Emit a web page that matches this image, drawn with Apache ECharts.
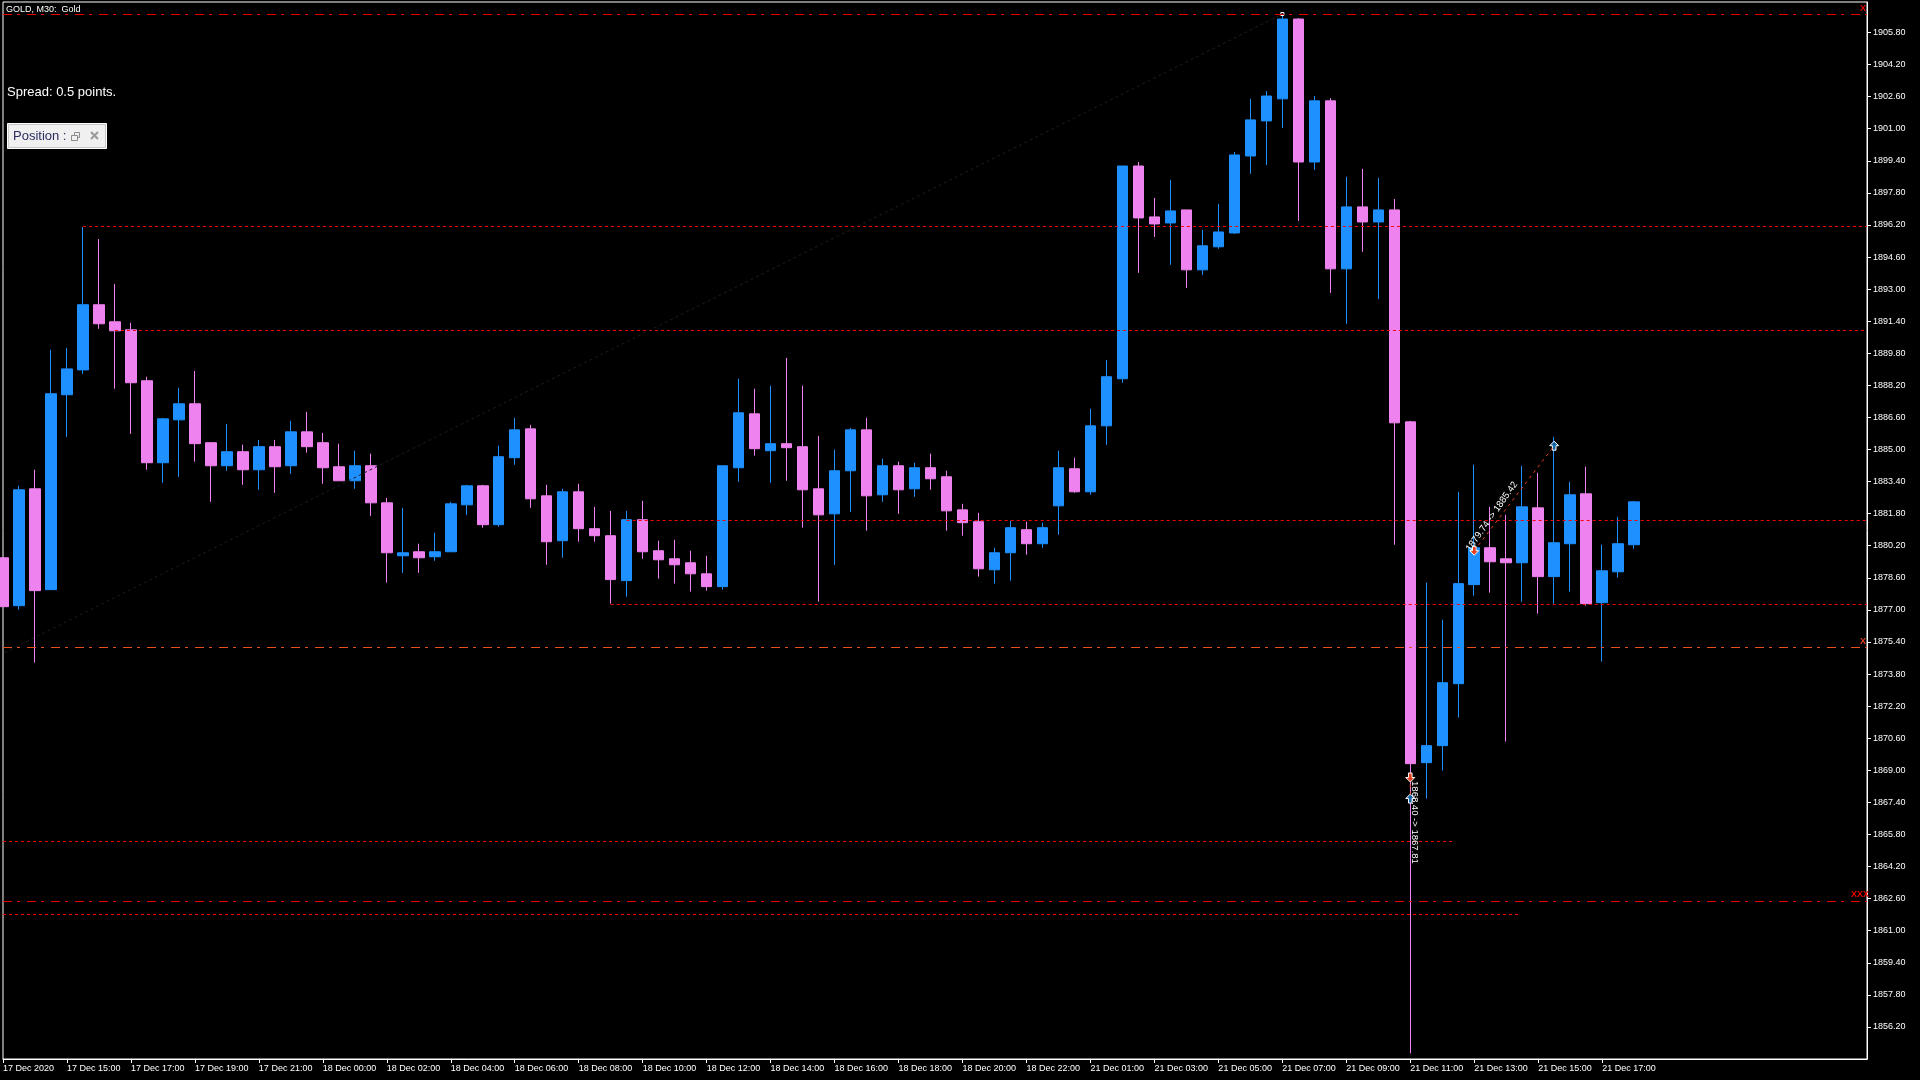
<!DOCTYPE html>
<html>
<head>
<meta charset="utf-8">
<title>GOLD, M30</title>
<style>html,body{margin:0;padding:0;background:#000;overflow:hidden}#c{width:1920px;height:1080px}</style>
<script src="https://cdn.jsdelivr.net/npm/echarts@6/dist/echarts.min.js"></script>
</head>
<body>
<div id="c"></div>
<script>
const opens = [1879.60,1877.21,1883.04,1878.01,1887.73,1888.97,1892.22,1891.37,1890.97,1888.43,1884.34,1886.48,1887.28,1885.34,1884.19,1884.89,1883.99,1885.14,1884.19,1885.88,1885.34,1884.14,1883.44,1884.19,1882.34,1879.70,1879.90,1879.65,1879.90,1882.24,1883.19,1881.25,1884.59,1886.03,1882.69,1880.45,1882.89,1881.05,1880.70,1878.46,1881.50,1879.95,1879.55,1879.35,1878.80,1878.16,1884.09,1886.78,1884.94,1885.29,1885.14,1883.04,1881.79,1883.94,1885.98,1882.74,1884.19,1883.04,1884.09,1883.64,1881.99,1881.40,1879.00,1879.85,1881.00,1880.30,1882.19,1884.04,1882.89,1886.18,1888.53,1899.14,1896.60,1896.30,1896.95,1893.96,1895.11,1895.80,1899.64,1901.39,1902.49,1906.47,1899.34,1902.39,1894.01,1897.10,1896.35,1896.95,1886.38,1869.38,1870.23,1873.32,1878.26,1880.10,1879.55,1879.35,1882.09,1878.66,1880.30,1882.79,1877.36,1878.90,1880.25];
const closes = [1877.16,1882.99,1877.96,1887.78,1889.02,1892.22,1891.27,1890.92,1888.33,1884.34,1886.53,1887.28,1885.29,1884.19,1884.89,1883.99,1885.14,1884.14,1885.88,1885.14,1884.09,1883.44,1884.19,1882.34,1879.85,1879.85,1879.60,1879.90,1882.29,1883.19,1881.25,1884.64,1885.98,1882.54,1880.40,1882.89,1881.05,1880.70,1878.51,1881.50,1879.90,1879.50,1879.25,1878.80,1878.16,1884.19,1886.83,1885.04,1885.29,1885.09,1882.99,1881.74,1883.94,1885.98,1882.69,1884.19,1882.99,1884.09,1883.54,1881.94,1881.35,1879.05,1879.85,1881.10,1880.30,1881.10,1884.09,1882.89,1886.18,1888.63,1899.14,1896.55,1896.25,1896.90,1893.96,1895.16,1895.85,1899.69,1901.44,1902.63,1906.47,1899.34,1902.39,1894.01,1897.10,1896.35,1896.95,1886.33,1869.33,1870.23,1873.37,1878.31,1880.10,1879.40,1879.35,1882.14,1878.66,1880.35,1882.74,1877.31,1878.95,1880.30,1882.39];
const lows = [1877.16,1877.01,1874.37,1878.01,1885.63,1888.77,1891.02,1888.03,1885.78,1883.99,1883.34,1883.64,1884.39,1882.39,1883.94,1883.24,1882.99,1882.84,1883.79,1884.84,1883.29,1883.44,1883.04,1881.69,1878.36,1878.85,1878.85,1879.45,1879.90,1881.74,1881.10,1881.15,1884.24,1882.09,1879.25,1879.60,1880.40,1880.40,1877.31,1877.66,1879.55,1878.56,1878.31,1877.91,1877.96,1878.01,1883.39,1884.69,1883.34,1883.44,1881.10,1877.41,1879.25,1881.89,1880.95,1882.39,1881.79,1882.64,1882.99,1880.95,1880.70,1878.66,1878.31,1878.46,1879.75,1880.10,1880.75,1882.84,1882.74,1885.24,1888.33,1893.81,1895.60,1894.21,1893.06,1893.71,1895.01,1895.75,1898.75,1899.19,1901.04,1896.40,1898.95,1892.81,1891.27,1894.86,1892.51,1880.25,1854.88,1867.59,1868.99,1871.63,1877.71,1877.86,1870.43,1877.41,1876.81,1877.31,1877.91,1877.21,1874.42,1878.61,1880.05];
const highs = [1879.60,1883.19,1883.99,1889.97,1890.07,1896.10,1895.50,1893.26,1891.32,1888.63,1886.58,1888.08,1888.92,1885.34,1886.28,1885.24,1885.48,1885.48,1886.43,1886.88,1885.83,1885.29,1884.94,1884.79,1882.59,1882.09,1880.30,1880.85,1882.39,1883.24,1883.24,1885.19,1886.58,1886.23,1883.24,1883.04,1883.29,1882.14,1881.94,1881.94,1882.44,1880.45,1880.50,1879.95,1879.70,1884.19,1888.53,1888.03,1888.18,1889.57,1888.18,1885.68,1884.99,1886.08,1886.58,1884.54,1884.39,1884.34,1884.79,1883.94,1882.29,1881.84,1880.10,1881.45,1881.40,1881.35,1884.94,1884.59,1887.03,1889.47,1899.14,1899.34,1897.55,1898.45,1896.95,1895.95,1897.25,1899.84,1902.49,1902.88,1906.72,1906.52,1902.63,1902.53,1898.60,1899.00,1898.55,1897.50,1886.43,1878.36,1876.51,1882.89,1884.24,1882.14,1881.74,1884.19,1883.84,1885.63,1883.39,1884.14,1880.25,1881.64,1882.44];

const priceTicks = [1856.2,1857.8,1859.4,1861.0,1862.6,1864.2,1865.8,1867.4,1869.0,1870.6,1872.2,1873.8,1875.4,1877.0,1878.6,1880.2,1881.8,1883.4,1885.0,1886.6,1888.2,1889.8,1891.4,1893.0,1894.6,1896.2,1897.8,1899.4,1901.0,1902.6,1904.2,1905.8];
const timeLabels = ['17 Dec 2020','17 Dec 15:00','17 Dec 17:00','17 Dec 19:00','17 Dec 21:00','18 Dec 00:00','18 Dec 02:00','18 Dec 04:00','18 Dec 06:00','18 Dec 08:00','18 Dec 10:00','18 Dec 12:00','18 Dec 14:00','18 Dec 16:00','18 Dec 18:00','18 Dec 20:00','18 Dec 22:00','21 Dec 01:00','21 Dec 03:00','21 Dec 05:00','21 Dec 07:00','21 Dec 09:00','21 Dec 11:00','21 Dec 13:00','21 Dec 15:00','21 Dec 17:00'];
const timeTickBars = [0,4,8,12,16,20,24,28,32,36,40,44,48,52,56,60,64,68,72,76,80,84,88,92,96,100];

// horizontal price levels: price, first bar, last bar (null = to the chart edge)
const levelPrices = [1906.697,1896.123,1890.935,1881.459,1877.269,1875.124,1865.448,1862.456,1861.807];
const levelStarts = [0,5,7,39,38,0,0,0,0];
const levelEnds   = [null,null,null,null,null,null,90.8,null,94.8];
const levelKinds  = ['main','dot','dot','dot','dot','alt','dot','main','dot'];

// faint trend line
const trendBars = [0.1,80];
const trendPrices = [1874.87,1906.72];

// closed trades: entry -> exit
const tradeBars = [[88,88],[92,97]];
const tradePrices = [[1868.64,1867.59],[1879.95,1885.19]];
const tradeTexts = ['1868.40 -> 1867.81','1879.74 -> 1885.42'];
const tradeTextBars = [88.3,93.1];
const tradeTextPrices = [1866.40,1881.66];
const topMarkBar = 80;
const topMarkPrice = 1906.72;

const FONT = '"Liberation Sans"';
const X_MAX = 116.56;
const UP_ARROW = 'path://M5 0 L10 5 L7 5 L7 10 L3 10 L3 5 L0 5 Z';
const DOWN_ARROW = 'path://M5 10 L0 5 L3 5 L3 0 L7 0 L7 5 L10 5 Z';

const levelStyles = {
  main: {color:'#f00000', type:[9,5,3,7]},
  alt:  {color:'#e8501e', type:[9,5,3,7]},
  dot:  {color:'#ff0000', type:[3,3]}
};

const candleData = opens.map((o,i)=>[i,o,closes[i],lows[i],highs[i]]);

const series = [{
  type:'candlestick',
  data:candleData,
  encode:{x:0,y:[1,2,3,4]},
  barWidth:11,
  clip:true,
  silent:true,
  itemStyle:{color:'#1e90ff',color0:'#ee82ee',borderColor:'#1e90ff',borderColor0:'#ee82ee',borderWidth:1}
}];

levelPrices.forEach((p,i)=>{
  const st = levelStyles[levelKinds[i]];
  series.push({
    type:'line',silent:true,symbol:'none',
    data:[[levelStarts[i],p],[levelEnds[i]===null?X_MAX:levelEnds[i],p]],
    lineStyle:{color:st.color,width:1,type:st.type}
  });
});

series.push({
  type:'line',silent:true,symbol:'none',
  data:trendBars.map((b,i)=>[b,trendPrices[i]]),
  lineStyle:{color:'#1e1e1e',width:1,type:[3,3]}
});

tradeBars.forEach((bars,i)=>{
  series.push({
    type:'line',silent:true,symbol:'none',
    data:[[bars[0],tradePrices[i][0]],[bars[1],tradePrices[i][1]]],
    lineStyle:{color:'#e8401e',width:1,type:[3,4]}
  });
  series.push({
    type:'scatter',silent:true,symbol:DOWN_ARROW,symbolSize:9,
    data:[[bars[0],tradePrices[i][0]]],
    itemStyle:{color:'#e8401e',borderColor:'#fff',borderWidth:1,opacity:1}
  });
  series.push({
    type:'scatter',silent:true,symbol:UP_ARROW,symbolSize:9,
    data:[[bars[1],tradePrices[i][1]]],
    itemStyle:{color:'#1464a8',borderColor:'#fff',borderWidth:1,opacity:1}
  });
});

series.push({
  type:'scatter',silent:true,symbol:'rect',symbolSize:3,
  data:[[topMarkBar,topMarkPrice]],
  itemStyle:{color:'#000',borderColor:'#fff',borderWidth:1,opacity:1}
});

const tradeRot = [-90,55];
tradeTexts.forEach((t,i)=>{
  series.push({
    type:'scatter',silent:true,symbol:'circle',symbolSize:1,
    data:[[tradeTextBars[i],tradeTextPrices[i]]],
    itemStyle:{color:'rgba(0,0,0,0)',borderWidth:0},
    label:{show:true,position:'inside',formatter:t,rotate:tradeRot[i],color:'#fff',fontFamily:FONT,fontSize:9.5,align:'center',verticalAlign:'middle',distance:0,opacity:1},
    z:5
  });
});

const chart = echarts.init(document.getElementById('c'),null,{renderer:'canvas',width:1920,height:1080});
chart.setOption({
  animation:false,
  backgroundColor:'#000',
  textStyle:{fontFamily:FONT},
  grid:{left:2,right:53,top:2,bottom:21,show:true,backgroundColor:'#000',borderColor:'#fff',borderWidth:1,containLabel:false},
  xAxis:{
    type:'value',min:0,max:X_MAX,
    splitLine:{show:false},
    axisLine:{show:true,lineStyle:{color:'#fff',width:1}},
    axisTick:{show:true,length:4,inside:false,lineStyle:{color:'#fff',width:1},customValues:timeTickBars},
    axisLabel:{color:'#fff',fontFamily:FONT,fontSize:9,align:'left',margin:5,customValues:timeTickBars,
      formatter:v=>timeLabels[timeTickBars.indexOf(v)]||'',hideOverlap:false}
  },
  yAxis:{
    type:'value',position:'right',min:1854.6,max:1907.32,scale:true,
    splitLine:{show:false},
    axisLine:{show:true,onZero:false,lineStyle:{color:'#fff',width:1}},
    axisTick:{show:true,length:4,lineStyle:{color:'#fff',width:1},customValues:priceTicks},
    axisLabel:{color:'#fff',fontFamily:FONT,fontSize:9,margin:6,padding:[1,0,0,0],customValues:priceTicks,formatter:v=>v.toFixed(2)}
  },
  series,
  graphic:[
    {type:'text',left:6,top:5,silent:true,style:{text:'GOLD, M30:  Gold',fill:'#fff',font:'9px '+FONT}},
    {type:'text',left:7,top:86,silent:true,style:{text:'Spread: 0.5 points.',fill:'#fff',font:'13px '+FONT}},
    {type:'rect',silent:true,shape:{x:7.5,y:123.5,width:99,height:25},style:{fill:'#f0f0f0',stroke:'#fff',lineWidth:1},z:10},
    {type:'rect',silent:true,shape:{x:8.5,y:124.5,width:97,height:23},style:{fill:'#f0f0f0',stroke:'#c8c8c8',lineWidth:1},z:10},
    {type:'text',silent:true,x:13,y:130,style:{text:'Position :',fill:'#2c2c60',font:'13px '+FONT},z:11},
    {type:'rect',silent:true,shape:{x:74.5,y:132.5,width:5,height:5},style:{fill:'none',stroke:'#8c8c8c',lineWidth:1},z:11},
    {type:'rect',silent:true,shape:{x:71.5,y:135.5,width:6,height:5},style:{fill:'#f0f0f0',stroke:'#8c8c8c',lineWidth:1},z:12},
    {type:'line',silent:true,shape:{x1:91,y1:132,x2:98,y2:139},style:{stroke:'#9a9a9a',lineWidth:2.2},z:11},
    {type:'line',silent:true,shape:{x1:98,y1:132,x2:91,y2:139},style:{stroke:'#9a9a9a',lineWidth:2.2},z:11},
    {type:'text',silent:true,x:1860,y:4,style:{text:'X',fill:'#f00000',font:'bold 9px '+FONT},z:11},
    {type:'text',silent:true,x:1860,y:637,style:{text:'X',fill:'#e8401e',font:'bold 9px '+FONT},z:11},
    {type:'text',silent:true,x:1851,y:890,style:{text:'XXX',fill:'#f00000',font:'bold 9px '+FONT},z:11}
  ]
});
</script>
</body>
</html>
